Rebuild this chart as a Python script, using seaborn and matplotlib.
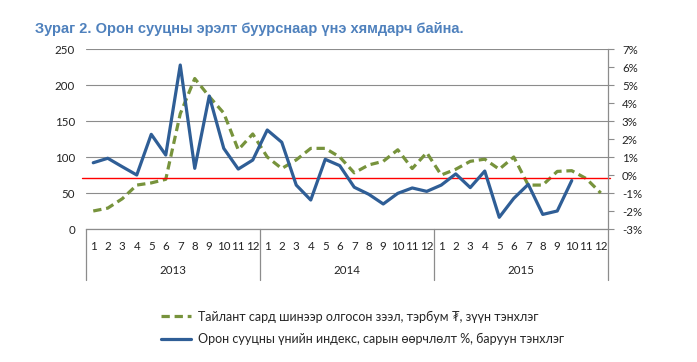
import pandas as pd
import matplotlib.pyplot as plt
import matplotlib.transforms as mtransforms
import seaborn as sns

# Data
years = ['2013', '2014', '2015']
months = list(range(1, 13))

loans = [25, 29, 42, 61, 64, 69, 160, 209, 184, 161, 110, 132,
         100, 84, 96, 112, 112, 100, 78, 89, 94, 110, 84, 106,
         75, 83, 94, 97, 83, 100, 61, 61, 80, 81, 70, 50]

price_change = [0.68, 0.93, 0.46, 0.0, 2.26, 1.11, 6.11, 0.37, 4.39, 1.48, 0.33, 0.83,
                2.5, 1.82, -0.56, -1.39, 0.87, 0.52, -0.68, -1.07, -1.61, -1.02, -0.72, -0.91,
                -0.56, 0.06, -0.70, 0.22, -2.35, -1.30, -0.52, -2.19, -2.0, -0.31, None, None]

ref_level = 71  # red reference line, left axis

title = 'Зураг 2. Орон сууцны эрэлт буурснаар үнэ хямдарч байна.'
label_loans = 'Тайлант сард шинээр олгосон зээл, тэрбум ₮, зүүн тэнхлэг'
label_price = 'Орон сууцны үнийн индекс, сарын өөрчлөлт %, баруун тэнхлэг'

GREEN = '#77933C'
BLUE = '#2F5E96'
GRID = '#8C8C8C'

df = pd.DataFrame({
    'pos': range(len(loans)),
    'loans': loans,
    'price': pd.to_numeric(pd.Series(price_change), errors='coerce'),
})

sns.set_style('white')
plt.rcParams['font.family'] = ['Lato', 'DejaVu Sans']

fig = plt.figure(figsize=(6.97, 3.62), dpi=100)
ax = fig.add_axes([86 / 697, 1 - 229 / 362, 522 / 697, 180 / 362])
ax2 = ax.twinx()

# left axis: loans
sns.lineplot(data=df, x='pos', y='loans', ax=ax, color=GREEN, lw=2.3,
             linestyle=(0, (2.6, 1.5)), label=label_loans, legend=False)
ax.set_ylim(0, 250)
ax.set_yticks(range(0, 251, 50))
ax.set_xlim(-0.5, len(loans) - 0.5)
ax.yaxis.grid(True, color=GRID, lw=0.8)
ax.set_axisbelow(True)
ax.tick_params(axis='y', length=0, pad=8, labelsize=8.3, colors='#222222')
ax.set_xticks(df['pos'])
ax.set_xticklabels([str(m) for _ in years for m in months])
ax.tick_params(axis='x', length=0, pad=9, labelsize=8.3, colors='#222222')
ax.set_xlabel('')
ax.set_ylabel('')
for s in ['left', 'top', 'right']:
    ax.spines[s].set_visible(False)
ax.spines['bottom'].set_color(GRID)
ax.spines['bottom'].set_linewidth(0.9)

# category box lines and year labels
for i in range(len(years) + 1):
    ax.axvline(i * 12 - 0.5, ymin=-0.285, ymax=0, color=GRID, lw=0.9, clip_on=False)
trans = mtransforms.blended_transform_factory(ax.transData, ax.transAxes)
for i, yr in enumerate(years):
    ax.text(i * 12 + 5.5, -0.23, yr, transform=trans, ha='center', va='center',
            fontsize=8.3, color='#222222')

# right axis: price index change
ax2.axhline((ref_level / 250) * 10 - 3, xmin=-0.008, xmax=1.004, color='red',
            lw=1, clip_on=False, zorder=1)
sns.lineplot(data=df, x='pos', y='price', ax=ax2, color=BLUE, lw=2.3,
             label=label_price, legend=False, zorder=3)
ax2.set_ylim(-3, 7)
ax2.set_yticks(range(-3, 8))
ax2.set_yticklabels([f'{v}%' for v in range(-3, 8)])
ax2.tick_params(axis='y', length=4, width=0.8, pad=6, labelsize=8.3,
                colors='#222222')
ax2.tick_params(axis='y', color=GRID)
ax2.set_ylabel('')
for s in ['left', 'top', 'bottom']:
    ax2.spines[s].set_visible(False)
ax2.spines['right'].set_color(GRID)
ax2.spines['right'].set_linewidth(0.9)

fig.text(35 / 697, 1 - 28.5 / 362, title, fontsize=10.5, fontweight='bold',
         color='#4F81BD', ha='left', va='center', family=['Liberation Sans', 'DejaVu Sans'])

h1, l1 = ax.get_legend_handles_labels()
h2, l2 = ax2.get_legend_handles_labels()
fig.legend(h1 + h2, l1 + l2, loc='center', bbox_to_anchor=(0.52, 0.094),
           frameon=False, fontsize=9, handlelength=2.4, handletextpad=0.5,
           labelspacing=0.85)

plt.savefig('out.png', dpi=100)
plt.close()
